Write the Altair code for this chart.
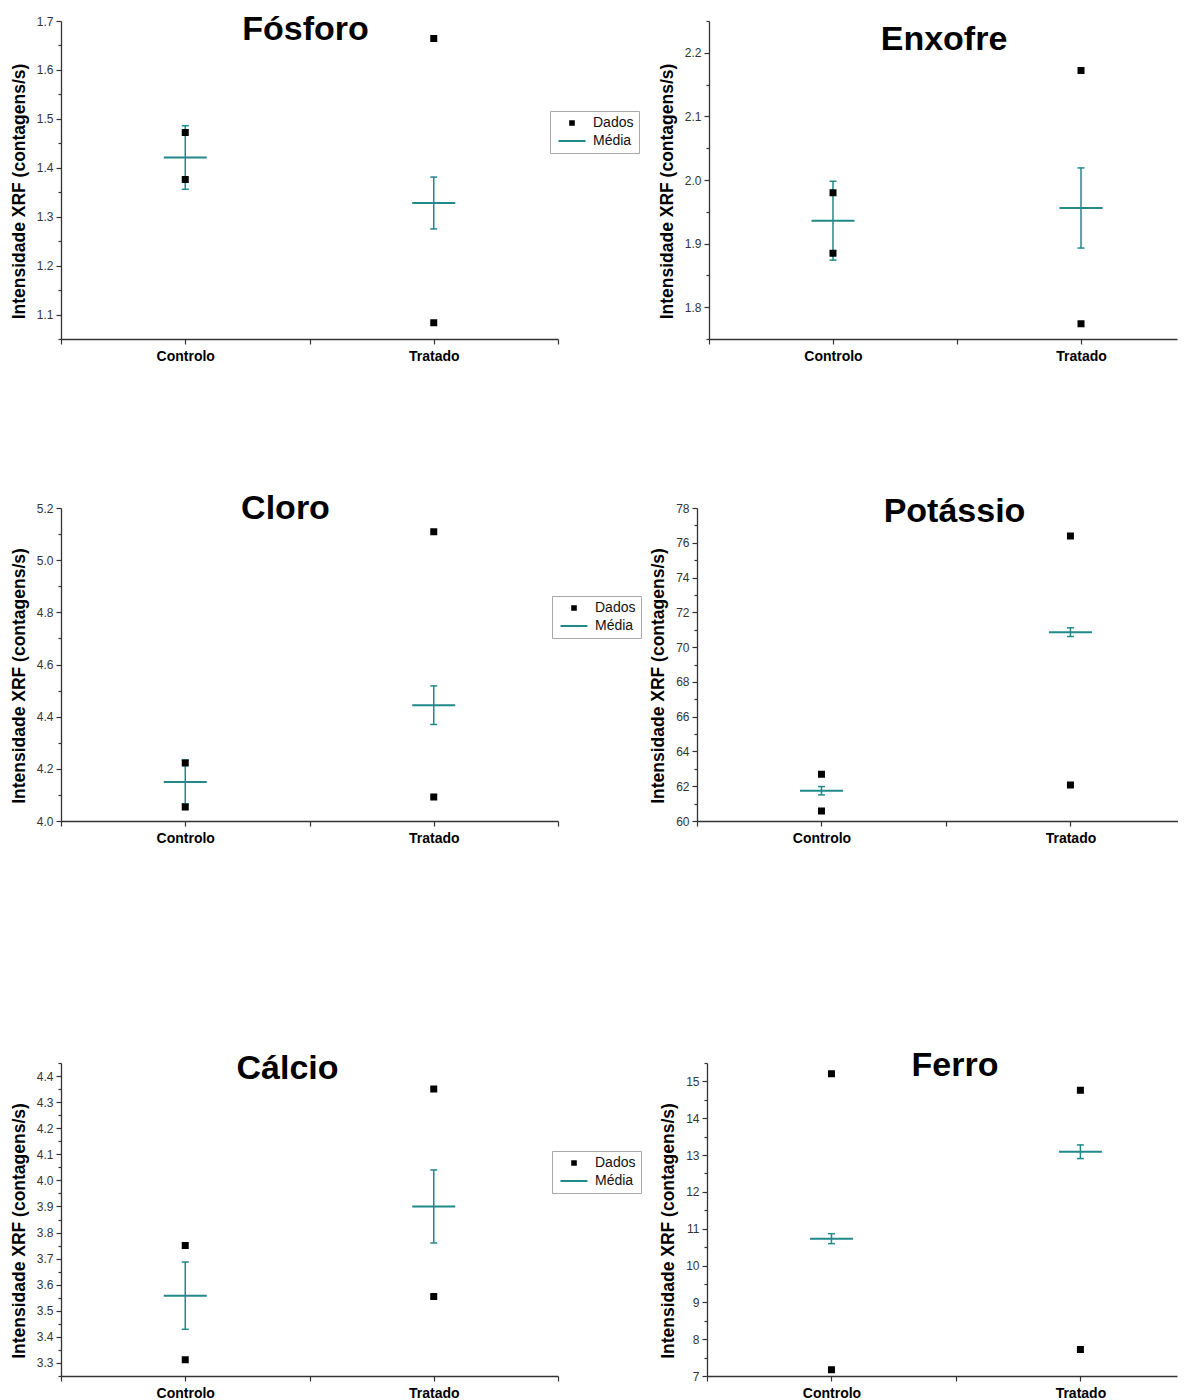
import altair as alt
import pandas as pd

# ---------------- data ----------------
elementos = ["Fósforo", "Enxofre", "Cloro", "Potássio", "Cálcio", "Ferro"]
grupos = ["Controlo", "Tratado"]
series = ["Dados", "Média"]

dados_controlo = [[1.472, 1.376], [1.980, 1.885], [4.222, 4.054],
                  [62.69, 60.58], [3.750, 3.312], [15.21, 7.17]]
dados_tratado = [[1.664, 1.083], [2.172, 1.774], [5.109, 4.092],
                 [76.39, 62.07], [4.350, 3.555], [14.76, 7.72]]
media_controlo = [1.421, 1.936, 4.150, 61.74, 3.558, 10.73]
media_tratado = [1.328, 1.956, 4.444, 70.86, 3.900, 13.09]
erro_controlo = [0.065, 0.062, 0.084, 0.24, 0.129, 0.135]
erro_tratado = [0.053, 0.063, 0.074, 0.25, 0.140, 0.185]

y_dominios = [[1.05, 1.7], [1.75, 2.25], [4.0, 5.2], [60, 78], [3.25, 4.45], [7, 15.5]]
y_ticks = [
    [1.1, 1.2, 1.3, 1.4, 1.5, 1.6, 1.7],
    [1.8, 1.9, 2.0, 2.1, 2.2],
    [4.0, 4.2, 4.4, 4.6, 4.8, 5.0, 5.2],
    [60, 62, 64, 66, 68, 70, 72, 74, 76, 78],
    [3.3, 3.4, 3.5, 3.6, 3.7, 3.8, 3.9, 4.0, 4.1, 4.2, 4.3, 4.4],
    [7, 8, 9, 10, 11, 12, 13, 14, 15],
]
y_minor = [
    [1.05, 1.15, 1.25, 1.35, 1.45, 1.55, 1.65],
    [1.75, 1.85, 1.95, 2.05, 2.15, 2.25],
    [4.1, 4.3, 4.5, 4.7, 4.9, 5.1],
    [61, 63, 65, 67, 69, 71, 73, 75, 77],
    [3.25, 3.35, 3.45, 3.55, 3.65, 3.75, 3.85, 3.95, 4.05, 4.15, 4.25, 4.35, 4.45],
    [7.5, 8.5, 9.5, 10.5, 11.5, 12.5, 13.5, 14.5, 15.5],
]
y_formatos = [".1f", ".1f", ".1f", "d", ".1f", "d"]
x_ticks = [0.5, 1.0, 1.5, 2.0, 2.5]

# ---------------- style ----------------
TEAL = "#21898a"
FONT = "Liberation Sans"
SQUARE = "M-0.3,-0.3H0.3V0.3H-0.3Z M-0.3,0H0.3 M0,-0.3V0.3"
LINE = "M-2.25,0H2.25"
Y_TITLE = "Intensidade XRF (contagens/s)"


def painel(i, width, height, x_max, legend_xy, t_off, t_dx):
    ysc = alt.Scale(domain=y_dominios[i], nice=False, zero=False)
    xsc = alt.Scale(domain=[0.5, x_max], nice=False, zero=False)

    pts = pd.DataFrame({
        "grupo": [1.0] * len(dados_controlo[i]) + [2.0] * len(dados_tratado[i]),
        "valor": dados_controlo[i] + dados_tratado[i],
        "serie": [series[0]] * (len(dados_controlo[i]) + len(dados_tratado[i])),
    })
    med = pd.DataFrame({
        "grupo": [1.0, 2.0],
        "media": [media_controlo[i], media_tratado[i]],
        "erro": [erro_controlo[i], erro_tratado[i]],
        "serie": [series[1]] * 2,
    })
    med["lo"] = med["media"] - med["erro"]
    med["hi"] = med["media"] + med["erro"]
    caps = pd.DataFrame({"grupo": [1.0, 2.0, 1.0, 2.0],
                         "y": list(med["lo"]) + list(med["hi"])})

    if legend_xy is not None:
        leg = alt.Legend(title=None, orient="none", legendX=legend_xy[0], legendY=legend_xy[1],
                         strokeColor="#a8a8a8", fillColor="white", padding=5,
                         symbolSize=144, symbolStrokeWidth=2, symbolOffset=10,
                         labelFontSize=14, labelFont=FONT, labelColor="#111111",
                         labelOffset=14, rowPadding=4)
    else:
        leg = None
    color = alt.Color("serie:N", scale=alt.Scale(domain=series, range=["black", TEAL]), legend=leg)
    shape = alt.Shape("serie:N", scale=alt.Scale(domain=series, range=[SQUARE, LINE]), legend=leg)

    xvals = [v for v in x_ticks if v <= x_max + 1e-9]
    xaxis = alt.Axis(values=xvals, title=None, grid=False, tickSize=5,
                     labelExpr="datum.value == 1 ? 'Controlo' : (datum.value == 2 ? 'Tratado' : '')",
                     labelFontWeight="bold", labelFontSize=14, labelPadding=5,
                     labelFlush=False, labelOverlap=False, labelColor="black")
    yaxis = alt.Axis(values=y_ticks[i], format=y_formatos[i], title=Y_TITLE, grid=False,
                     orient="left", tickSize=5, labelPadding=3, titlePadding=8,
                     labelFlush=False, labelOverlap=False, titleFontWeight="bold",
                     titleFontSize=17.5, titleColor="black", titleY=height / 2 + 11,
                     labelFontSize=12, labelColor="#333333")
    yminor = alt.Axis(values=y_minor[i], labels=False, domain=False, tickSize=3,
                      title=None, grid=False, orient="left")

    bx = alt.X("grupo:Q", scale=xsc, axis=xaxis)
    regua = alt.Chart(med).mark_rule(color=TEAL, strokeWidth=1.5).encode(
        x=bx, y=alt.Y("lo:Q", scale=ysc, axis=None), y2="hi:Q")
    tampas = alt.Chart(caps).mark_point(shape="stroke", size=49, strokeWidth=1.5,
                                        color=TEAL, opacity=1).encode(
        x=bx, y=alt.Y("y:Q", scale=ysc, axis=None))
    medias = alt.Chart(med).mark_point(filled=False, size=365, strokeWidth=2, opacity=1).encode(
        x=bx, y=alt.Y("media:Q", scale=ysc, axis=yminor), color=color, shape=shape)
    dados = alt.Chart(pts).mark_point(filled=False, size=178, strokeWidth=3, opacity=1).encode(
        x=bx, y=alt.Y("valor:Q", scale=ysc, axis=yaxis), color=color, shape=shape)

    return alt.layer(regua, tampas, medias, dados).resolve_axis(y="independent").properties(
        width=width, height=height,
        title=alt.TitleParams(text=elementos[i], anchor="middle", frame="group",
                              baseline="alphabetic", offset=t_off, dx=t_dx,
                              fontSize=34, font=FONT, fontWeight="bold", color="black"))


def espaco(h):
    return alt.Chart(pd.DataFrame({"v": [0]})).mark_point(opacity=0, size=1).encode(
        x=alt.value(0), y=alt.value(0)).properties(width=1, height=h)


def linha(a, b, s):
    return alt.hconcat(a, b, spacing=s).resolve_scale(
        color="independent", shape="independent").resolve_legend(
        color="independent", shape="independent")


p0 = painel(0, 497, 318, 2.5, (489, 90), -59, -4)
p1 = painel(1, 468, 318, 2.387, None, -64, 1)
p2 = painel(2, 497, 313, 2.5, (491, 88), -51, -24)
p3 = painel(3, 481, 313, 2.432, None, -54, 17)
p4 = painel(4, 497, 313, 2.5, (491, 88), -51, -22)
p5 = painel(5, 470, 313, 2.388, None, -48, 13)

chart = alt.vconcat(
    linha(p0, p1, 18), espaco(128),
    linha(p2, p3, 7), espaco(203),
    linha(p4, p5, 17),
    spacing=0,
).resolve_scale(color="independent", shape="independent").resolve_legend(
    color="independent", shape="independent"
).properties(
    padding={"left": 2, "top": 5, "right": 0, "bottom": 0}
).configure_view(strokeWidth=0).configure_axis(
    labelFont=FONT, titleFont=FONT, domainColor="#333333", tickColor="#333333",
    domainWidth=1.3, tickWidth=1.2
)

chart.save("out.html", embed_options={"renderer": "svg", "actions": False})
